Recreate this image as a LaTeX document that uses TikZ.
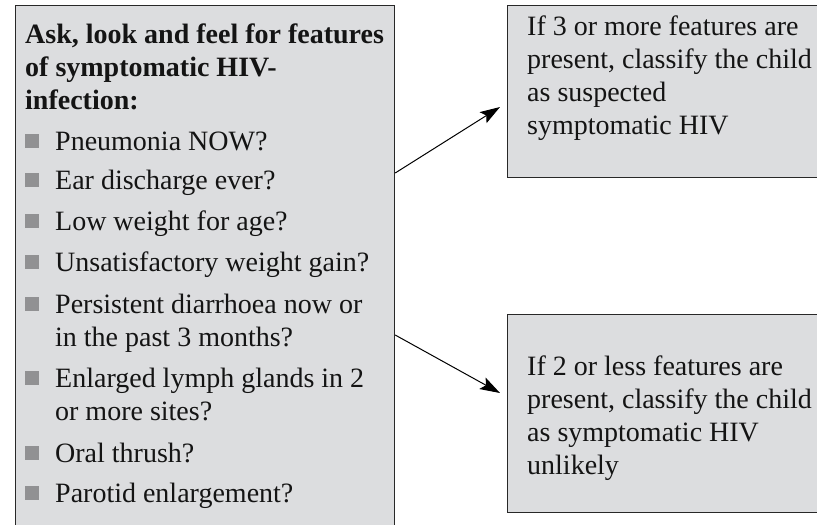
\documentclass[tikz,border=0pt]{standalone}
\usepackage{fontspec}
\setmainfont{Liberation Serif}
\usetikzlibrary{arrows.meta}
\definecolor{boxfill}{RGB}{220,221,223}
\definecolor{boxline}{RGB}{40,40,40}
\definecolor{bulgray}{RGB}{145,145,147}
\definecolor{txt}{RGB}{20,20,20}
\newcommand{\sqbul}{\textcolor{bulgray}{\rule[2pt]{14pt}{14pt}}\hspace{16pt}}
\begin{document}
\begin{tikzpicture}[x=1pt,y=-1pt,
  box/.style={draw=boxline, fill=boxfill, line width=1.2pt, rectangle, inner sep=0pt, anchor=north west},
  txtnode/.style={inner sep=0pt, anchor=base west, text=txt, font=\fontsize{28}{33.3}\selectfont},
  arr/.style={draw=black, line width=1pt, -{Stealth[length=20pt,width=13pt,inset=4pt]}}]
\useasboundingbox (0,0) rectangle (817,525);
\node[box, minimum width=379pt, minimum height=560pt] (L) at (15,5) {};
\node[box, minimum width=340pt, minimum height=172pt] (T) at (507,5) {};
\node[box, minimum width=340pt, minimum height=198pt] (B) at (507,314) {};
% left box text
\node[txtnode, font=\bfseries\fontsize{28}{33.3}\selectfont] (title) at (25,43)
  {\parbox[t]{400pt}{Ask, look and feel for features\\of symptomatic HIV-\\infection:}};
\node[txtnode] (i1) at (25,150) {\sqbul Pneumonia NOW?};
\node[txtnode] (i2) at (25,189) {\sqbul Ear discharge ever?};
\node[txtnode] (i3) at (25,230) {\sqbul Low weight for age?};
\node[txtnode] (i4) at (25,271) {\sqbul Unsatisfactory weight gain?};
\node[txtnode] (i5) at (25,313) {\sqbul\parbox[t]{340pt}{Persistent diarrhoea now or\\in the past 3 months?}};
\node[txtnode] (i6) at (25,387) {\sqbul\parbox[t]{340pt}{Enlarged lymph glands in 2\\or more sites?}};
\node[txtnode] (i7) at (25,462) {\sqbul Oral thrush?};
\node[txtnode] (i8) at (25,502) {\sqbul Parotid enlargement?};
% right box texts
\node[txtnode] (t1) at (527,35)
  {\parbox[t]{320pt}{If 3 or more features are\\present, classify the child\\as suspected\\symptomatic HIV}};
\node[txtnode] (t2) at (527,375)
  {\parbox[t]{320pt}{If 2 or less features are\\present, classify the child\\as symptomatic HIV\\unlikely}};
% connectors
\path (L.east |- 0,173) coordinate (s1);
\path (T.west |- 0,107) ++(-7,0) coordinate (e1);
\path (L.east |- 0,335) coordinate (s2);
\path (B.west |- 0,393) ++(-7,0) coordinate (e2);
\draw[arr] (s1) -- (e1);
\draw[arr] (s2) -- (e2);
\end{tikzpicture}
\end{document}
